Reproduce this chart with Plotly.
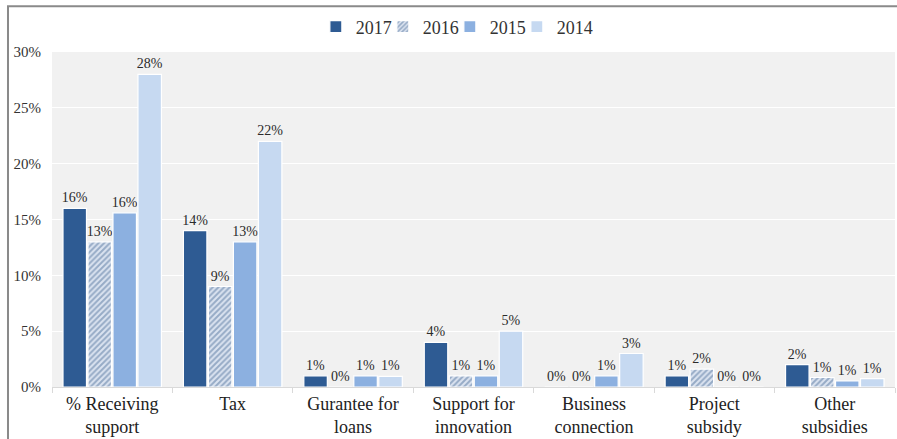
import plotly.graph_objects as go

categories = ["% Receiving<br>support", "Tax", "Gurantee for<br>loans", "Support for<br>innovation",
              "Business<br>connection", "Project<br>subsidy", "Other<br>subsidies"]
years = ["2017", "2016", "2015", "2014"]
v2017 = [16.0, 14.0, 1.0, 4.0, 0.0, 1.0, 2.0]
v2016 = [13.0, 9.0, 0.0, 1.0, 0.0, 1.6, 0.85]
v2015 = [15.6, 13.0, 1.0, 1.0, 1.0, 0.0, 0.55]
v2014 = [28.0, 22.0, 0.95, 5.0, 3.0, 0.0, 0.75]
y_ticks = [0, 5, 10, 15, 20, 25, 30]

FONT = "Liberation Serif, Times New Roman, serif"
colors = ["#2e5b93", "#7d9bc9", "#8cb0e0", "#c6d9f1"]

fig = go.Figure()
for i, (name, vals) in enumerate(zip(years, [v2017, v2016, v2015, v2014])):
    marker = dict(color=colors[i], line=dict(color="white", width=1.2))
    if name == "2016":
        marker = dict(color="#dbe3f0", line=dict(color="white", width=1.2),
                      pattern=dict(shape="/", fgcolor="#52739c", bgcolor="#dbe3f0",
                                   size=4, solidity=0.5, fillmode="overlay"))
    fig.add_trace(go.Bar(
        name=name, x=categories, y=vals, marker=marker,
        texttemplate="%{y:.0f}%", textposition="outside", cliponaxis=False,
        constraintext="none",
        textfont=dict(family=FONT, size=14, color="#2b2b2b"),
    ))

# invisible spacer entry so the last legend label is not clipped
fig.add_trace(go.Scatter(x=[categories[0]], y=[None], mode="markers", name=" ",
                         marker=dict(color="rgba(0,0,0,0)", size=1),
                         hoverinfo="skip", showlegend=True))

fig.update_layout(
    width=897, height=439,
    margin=dict(l=52, r=2, t=52, b=50),
    paper_bgcolor="white", plot_bgcolor="#f1f1f1",
    barmode="group", bargap=0.17, bargroupgap=0.06,
    font=dict(family=FONT, size=14, color="#333333"),
    legend=dict(orientation="h", x=0.313, xanchor="left", y=1.075, yanchor="middle",
                font=dict(family=FONT, size=18, color="#333333"),
                itemwidth=30, entrywidth=22, entrywidthmode="pixels",
                traceorder="normal", bgcolor="rgba(0,0,0,0)"),
    showlegend=True,
    shapes=[dict(type="rect", xref="paper", yref="paper",
                 x0=-0.0522, x1=1.05, y0=-0.4, y1=1.1365,
                 line=dict(color="#8a8a8a", width=2), fillcolor="rgba(0,0,0,0)",
                 layer="below")],
)
fig.update_xaxes(
    showgrid=False, showline=True, linecolor="#d9d9d9", linewidth=1,
    ticks="outside", tickson="boundaries", ticklen=5, tickcolor="#d9d9d9",
    tickfont=dict(family=FONT, size=18, color="#222222"),
)
fig.update_yaxes(
    range=[0, 30], tickvals=y_ticks, ticktext=[f"{t}%" for t in y_ticks],
    showgrid=True, gridcolor="white", gridwidth=1, zeroline=False,
    ticks="", ticklabelstandoff=10,
    tickfont=dict(family=FONT, size=15, color="#333333"),
)

fig.write_html(
    "out.html",
    config={"displayModeBar": False},
    post_script="document.body.style.margin='0';document.body.style.overflow='hidden';"
                "document.documentElement.style.overflow='hidden';",
)
